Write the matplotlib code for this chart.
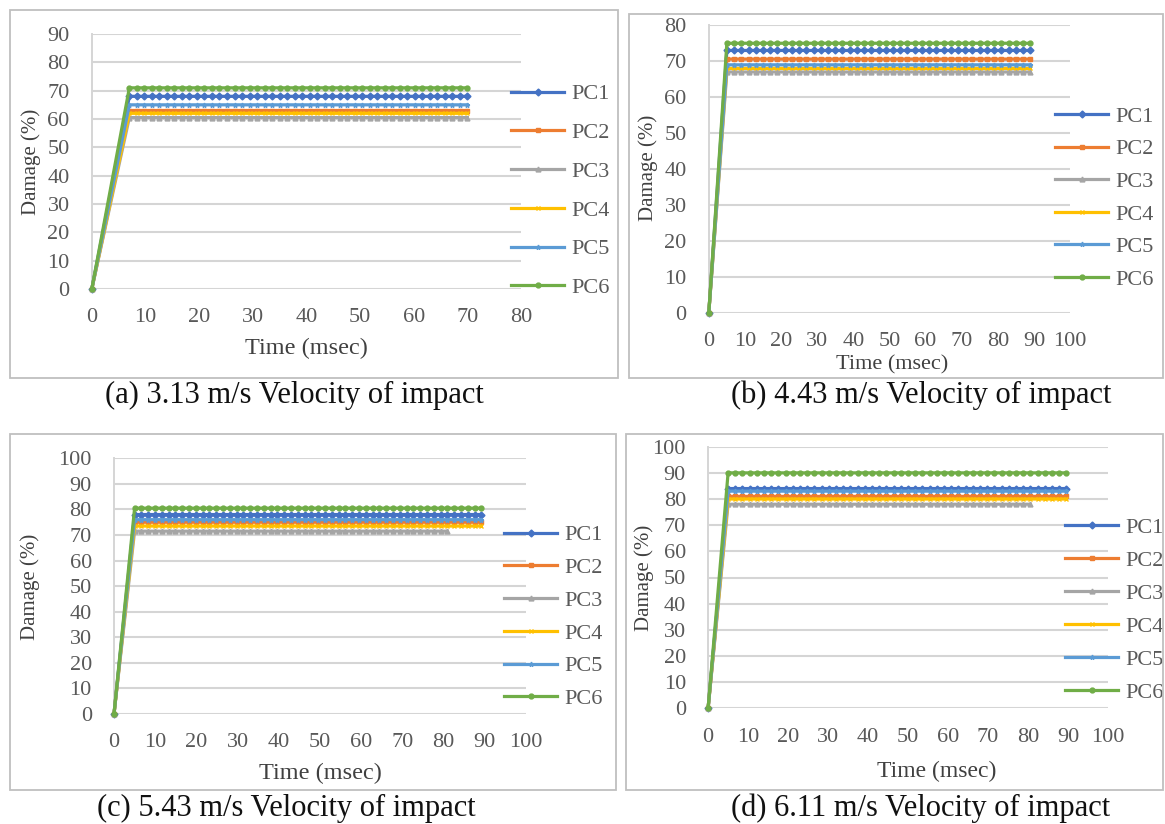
import numpy as np
import matplotlib
matplotlib.use("Agg")
import matplotlib.pyplot as plt
from matplotlib.patches import Rectangle

W, H = 1165, 824

# ---------------- data ----------------
SERIES = ["PC1", "PC2", "PC3", "PC4", "PC5", "PC6"]
COLORS = ["#4472C4", "#ED7D31", "#A5A5A5", "#FFC000", "#5B9BD5", "#70AD47"]
MARKERS = ["D", "s", "^", "x", "*", "o"]

# (a) 3.13 m/s
A_PLATEAU = [68, 63, 60.5, 62, 65, 71]      # damage (%) after the jump
A_RISE = 7                                   # msec where the jump ends
A_END = [70, 70, 70, 70, 70, 70]             # last time (msec) of each series
A_STEP = 1.4                                 # sampling interval (msec)
A_XTICKS = [0, 10, 20, 30, 40, 50, 60, 70, 80]
A_YTICKS = [0, 10, 20, 30, 40, 50, 60, 70, 80, 90]
A_CAPTION = "(a) 3.13 m/s Velocity of impact"

# (b) 4.43 m/s
B_PLATEAU = [73, 70.6, 67, 68, 69, 75]
B_RISE = 5
B_END = [90, 90, 90, 90, 90, 90]
B_STEP = 2.0
B_XTICKS = [0, 10, 20, 30, 40, 50, 60, 70, 80, 90, 100]
B_YTICKS = [0, 10, 20, 30, 40, 50, 60, 70, 80]
B_CAPTION = "(b) 4.43 m/s Velocity of impact"

# (c) 5.43 m/s
C_PLATEAU = [78, 75, 71.5, 73.5, 76, 80.5]
C_RISE = 5
C_END = [90, 90, 81.5, 90, 90, 90]
C_STEP = 1.65
C_XTICKS = [0, 10, 20, 30, 40, 50, 60, 70, 80, 90, 100]
C_YTICKS = [0, 10, 20, 30, 40, 50, 60, 70, 80, 90, 100]
C_CAPTION = "(c) 5.43 m/s Velocity of impact"

# (d) 6.11 m/s
D_PLATEAU = [84, 81, 78, 80, 83, 90]
D_RISE = 5
D_END = [90, 90, 81.5, 90, 90, 90]
D_STEP = 1.8
D_XTICKS = [0, 10, 20, 30, 40, 50, 60, 70, 80, 90, 100]
D_YTICKS = [0, 10, 20, 30, 40, 50, 60, 70, 80, 90, 100]
D_CAPTION = "(d) 6.11 m/s Velocity of impact"

X_LABEL = "Time (msec)"
Y_LABEL = "Damage (%)"

# ---------------- layout (pixels, origin top-left) ----------------
PANELS = [
    dict(plateau=A_PLATEAU, rise=A_RISE, end=A_END, step=A_STEP, xt=A_XTICKS, yt=A_YTICKS, cap=A_CAPTION,
         ax=(91.8, 34, 521, 289), box=(10, 10, 618, 378), leg=(511, 90.7, 287.3),
         ylab=(31, 162), xlab=(306, 348), capxy=(294, 395), xls=17.5),
    dict(plateau=B_PLATEAU, rise=B_RISE, end=B_END, step=B_STEP, xt=B_XTICKS, yt=B_YTICKS, cap=B_CAPTION,
         ax=(708.8, 25.3, 1070, 312.7), box=(629, 14, 1163, 378), leg=(1055, 113, 279),
         ylab=(648, 168), xlab=(892, 365), capxy=(920.7, 395), xls=16),
    dict(plateau=C_PLATEAU, rise=C_RISE, end=C_END, step=C_STEP, xt=C_XTICKS, yt=C_YTICKS, cap=C_CAPTION,
         ax=(114, 458.3, 526, 714), box=(10, 434, 616, 790), leg=(504, 531.7, 698.3),
         ylab=(30, 587), xlab=(320.5, 773), capxy=(286, 808), xls=17.5),
    dict(plateau=D_PLATEAU, rise=D_RISE, end=D_END, step=D_STEP, xt=D_XTICKS, yt=D_YTICKS, cap=D_CAPTION,
         ax=(708.1, 446.7, 1108, 708.3), box=(626, 434, 1163, 790), leg=(1065, 524.3, 691.7),
         ylab=(644, 578), xlab=(937, 771.7), capxy=(920.7, 808), xls=17),
]

FONT = "Liberation Serif"
plt.rcParams["font.family"] = [FONT, "DejaVu Serif"]
TICK_FS = 16
LEG_FS = 16
YLAB_FS = 15
CAP_FS = 22
GRID_C = "#D5D5D5"
TEXT_C = "#595959"

fig = plt.figure(figsize=(W / 100, H / 100), dpi=100)
fig.patch.set_facecolor("white")


def fx(px):
    return px / W


def fy(py):
    return 1 - py / H


for p in PANELS:
    x0, y0, x1, y1 = p["box"]
    fig.add_artist(Rectangle((fx(x0), fy(y1)), (x1 - x0) / W, (y1 - y0) / H,
                             transform=fig.transFigure, fill=False, ec="#BFBFBF", lw=1.3))

    l, t, r, b = p["ax"]
    ax = fig.add_axes([fx(l), fy(b), (r - l) / W, (b - t) / H])
    ax.set_xlim(p["xt"][0], p["xt"][-1])
    ax.set_ylim(p["yt"][0], p["yt"][-1])
    ax.set_xticks(p["xt"])
    ax.set_yticks(p["yt"])
    ax.tick_params(length=0, labelsize=TICK_FS, colors=TEXT_C)
    ax.tick_params(axis="y", pad=16)
    ax.tick_params(axis="x", pad=14)
    for s in ("top", "right", "bottom"):
        ax.spines[s].set_visible(False)
    ax.spines["left"].set_color(GRID_C)
    ax.spines["left"].set_linewidth(1.4)
    ax.yaxis.grid(True, color=GRID_C, lw=1.5)
    ax.set_axisbelow(True)
    ax.patch.set_alpha(0)

    handles = []
    for i, name in enumerate(SERIES):
        plateau_t = np.arange(p["rise"], p["end"][i] + 1e-6, p["step"])
        t = np.concatenate([[0], plateau_t])
        v = np.concatenate([[0], np.full(len(plateau_t), p["plateau"][i])])
        (ln,) = ax.plot(t, v, color=COLORS[i], lw=2.3, marker=MARKERS[i], ms=3.5,
                        mec=COLORS[i], mfc=COLORS[i], mew=1, clip_on=False,
                        zorder=3 + i, label=name)
        handles.append(ln)

    lx, ly0, ly1 = p["leg"]
    pitch = (ly1 - ly0) / 5
    fs_px = LEG_FS * 100 / 72
    spacing = (pitch - fs_px * 0.95) / fs_px
    ax.legend(handles=handles, loc="center left",
              bbox_to_anchor=(fx(lx), fy((ly0 + ly1) / 2 + 2)), bbox_transform=fig.transFigure,
              frameon=False, borderpad=0, borderaxespad=0, handlelength=2.4,
              handletextpad=0.3, labelspacing=spacing, labelcolor=TEXT_C,
              prop={"family": FONT, "size": LEG_FS})

    ax.set_ylabel(Y_LABEL, fontsize=YLAB_FS, color="#404040", va="center", ha="center")
    ax.yaxis.set_label_coords(fx(p["ylab"][0]), fy(p["ylab"][1]), transform=fig.transFigure)
    ax.set_xlabel(X_LABEL, fontsize=p["xls"], color="#404040", va="center", ha="center")
    ax.xaxis.set_label_coords(fx(p["xlab"][0]), fy(p["xlab"][1]), transform=fig.transFigure)

    fig.text(fx(p["capxy"][0]), fy(p["capxy"][1]), p["cap"], fontsize=CAP_FS,
             ha="center", va="center", color="#111111")

fig.savefig("out.png", dpi=100, facecolor="white")
